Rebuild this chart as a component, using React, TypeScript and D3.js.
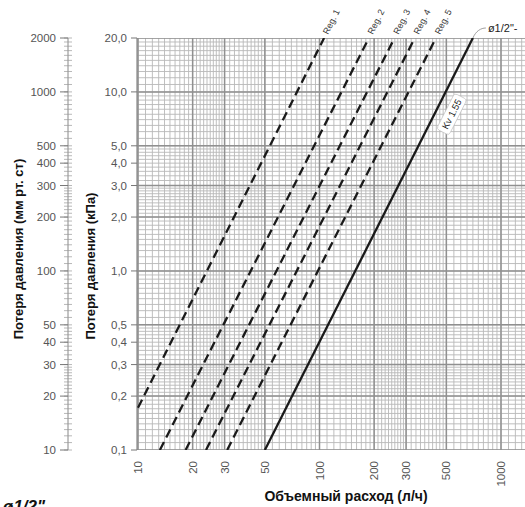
import React from "react";
import * as d3 from "d3";

// ---- data ----
const xTickValues = [10, 20, 30, 50, 100, 200, 300, 500, 1000];
const xTickLabels = ["10", "20", "30", "50", "100", "200", "300", "500", "1000"];
const kpaTickValues = [20, 10, 5, 4, 3, 2, 1, 0.5, 0.4, 0.3, 0.2, 0.1];
const kpaTickLabels = ["20,0", "10,0", "5,0", "4,0", "3,0", "2,0", "1,0", "0,5", "0,4", "0,3", "0,2", "0,1"];
const mmTickValues = [2000, 1000, 500, 400, 300, 200, 100, 50, 40, 30, 20, 10];
const mmTickLabels = ["2000", "1000", "500", "400", "300", "200", "100", "50", "40", "30", "20", "10"];
const majorYGrid = [0.1, 0.2, 0.3, 0.5, 1, 2, 3, 5, 10, 20];

// regulating positions: [flow start, dp start], [flow end, dp end]
const regNames = ["Reg. 1", "Reg. 2", "Reg. 3", "Reg. 4", "Reg. 5"];
const regStartFlow = [10, 13.2, 18.3, 23.7, 31];
const regStartDp = [0.172, 0.1, 0.1, 0.1, 0.1];
const regEndFlow = [106, 187, 259, 335, 438];
const regEndDp = [20, 20, 20, 20, 20];

const kvName = "Kv 1.55";
const kvFlow = [50, 700];
const kvDp = [0.1, 20];

const W = 525, H = 507;
const L = 137, R = 525, T = 38, B = 450;

function minorValues(lo: number, hi: number): number[] {
  const out: number[] = [];
  for (let b = lo; b < hi; b *= 10) {
    const segs: [number, number, number][] = [
      [1, 2, 0.1], [2, 3, 0.1], [3, 5, 0.2], [5, 10, 0.5],
    ];
    for (const [a, c, s] of segs) {
      for (let v = a; v < c - 1e-9; v += s) out.push(+(v * b).toFixed(6));
    }
  }
  out.push(hi);
  return out;
}

export default function App() {
  const x = d3.scaleLog().domain([10, 1000]).range([L + 1, L + 364]);
  const y = d3.scaleLog().domain([0.1, 20]).range([B, T]);
  const yMm = d3.scaleLog().domain([10, 2000]).range([B, T]);

  const xMinor = minorValues(10, 10000).filter((v) => x(v) <= R);
  const yMinor = minorValues(0.1, 100).filter((v) => v <= 20);
  const mmMinor = minorValues(10, 10000).filter((v) => v <= 2000);

  const line = d3
    .line<[number, number]>()
    .x((d) => x(d[0]))
    .y((d) => y(d[1]));

  const font = "'Liberation Sans', Arial, sans-serif";
  const ang = (-Math.atan2(2 * 179, 181.5) * 180) / Math.PI;

  // Kv label position
  const kvLabelDp = 7.6;
  const kvLabelFlow = kvFlow[1] * Math.sqrt(kvLabelDp / kvDp[1]);
  const kvLx = x(kvLabelFlow) + 17;
  const kvLy = y(kvLabelDp) + 1;

  return (
    <svg
      width={W}
      height={H}
      style={{ position: "fixed", left: 0, top: 0, background: "#fff" }}
      fontFamily={font}
    >
      <defs>
        <clipPath id="plot">
          <rect x={L} y={T} width={R - L} height={B - T} />
        </clipPath>
      </defs>
      <rect x={0} y={0} width={W} height={H} fill="#fff" />

      {/* grid */}
      <g clipPath="url(#plot)">
        {xMinor.map((v, i) => (
          <line key={"xm" + i} x1={x(v)} x2={x(v)} y1={T} y2={B} stroke="#b8b8b8" strokeWidth={0.9} />
        ))}
        {yMinor.map((v, i) => (
          <line key={"ym" + i} x1={L} x2={R} y1={y(v)} y2={y(v)} stroke="#b8b8b8" strokeWidth={0.9} />
        ))}
        {xTickValues.map((v, i) => (
          <line key={"xM" + i} x1={x(v)} x2={x(v)} y1={T} y2={B} stroke="#909090" strokeWidth={1.5} />
        ))}
        {majorYGrid.map((v, i) => (
          <line key={"yM" + i} x1={L} x2={R} y1={y(v)} y2={y(v)} stroke="#909090" strokeWidth={1.5} />
        ))}
      </g>
      <line x1={L} x2={L} y1={T} y2={B} stroke="#888" strokeWidth={1.2} />

      {/* curves */}
      <g clipPath="url(#plot)">
        {regNames.map((n, i) => (
          <path
            key={n}
            d={line([[regStartFlow[i], regStartDp[i]], [regEndFlow[i], regEndDp[i]]]) || ""}
            fill="none"
            stroke="#1a1a1a"
            strokeWidth={2.3}
            strokeDasharray="9,5"
          />
        ))}
        <path
          d={line([[kvFlow[0], kvDp[0]], [kvFlow[1], kvDp[1]]]) || ""}
          fill="none"
          stroke="#1a1a1a"
          strokeWidth={2.3}
        />
      </g>

      {/* Reg labels */}
      {regNames.map((n, i) => (
        <text
          key={"l" + n}
          transform={`translate(${x(regEndFlow[i]) + 4},${T - 3}) rotate(${ang})`}
          fontSize={9}
          fill="#333"
        >
          {n}
        </text>
      ))}

      {/* Kv label */}
      <g transform={`translate(${kvLx},${kvLy}) rotate(${ang})`}>
        <rect x={-20} y={-7} width={40} height={14} rx={3} fill="#fff" stroke="#bbb" strokeWidth={0.6} />
        <text textAnchor="middle" dy="0.35em" fontSize={9.5} fill="#222">
          {kvName}
        </text>
      </g>

      {/* size label with leader */}
      <path
        d={`M${x(kvFlow[1])},${T} C${x(kvFlow[1]) + 3},${T - 7} ${x(kvFlow[1]) + 8},${T - 10} ${x(kvFlow[1]) + 13},${T - 10}`}
        fill="none"
        stroke="#888"
        strokeWidth={0.8}
      />
      <text x={x(kvFlow[1]) + 15} y={T - 6} fontSize={11} fill="#222">
        ø1/2"-
      </text>

      {/* kPa axis */}
      {kpaTickValues.map((v, i) => (
        <g key={"k" + i}>
          <line x1={L - 6} x2={L} y1={y(v)} y2={y(v)} stroke="#777" strokeWidth={1} />
          <text x={L - 10} y={y(v)} dy="0.35em" textAnchor="end" fontSize={11.5} fill="#555">
            {kpaTickLabels[i]}
          </text>
        </g>
      ))}

      {/* mm axis */}
      <line x1={68} x2={68} y1={T} y2={B} stroke="#888" strokeWidth={1} />
      {mmMinor.map((v, i) => (
        <line key={"mm" + i} x1={64} x2={72} y1={yMm(v)} y2={yMm(v)} stroke="#999" strokeWidth={0.7} />
      ))}
      {mmTickValues.map((v, i) => (
        <g key={"mt" + i}>
          <line x1={60} x2={68} y1={yMm(v)} y2={yMm(v)} stroke="#777" strokeWidth={1} />
          <text x={56} y={yMm(v)} dy="0.35em" textAnchor="end" fontSize={11.5} fill="#555">
            {mmTickLabels[i]}
          </text>
        </g>
      ))}

      {/* x axis labels */}
      {xTickValues.map((v, i) => (
        <text
          key={"xt" + i}
          transform={`translate(${x(v)},${B + 11}) rotate(-90)`}
          dy="0.35em"
          textAnchor="end"
          fontSize={11.5}
          fill="#555"
        >
          {xTickLabels[i]}
        </text>
      ))}

      {/* titles */}
      <text
        transform={`translate(23,249) rotate(-90)`}
        textAnchor="middle"
        fontSize={13}
        fontWeight="bold"
        fill="#111"
      >
        Потеря давления (мм рт. ст)
      </text>
      <text
        transform={`translate(95,266) rotate(-90)`}
        textAnchor="middle"
        fontSize={13}
        fontWeight="bold"
        fill="#111"
      >
        Потеря давления (кПа)
      </text>
      <text x={346} y={501} textAnchor="middle" fontSize={14} fontWeight="bold" fill="#111">
        Объемный расход (л/ч)
      </text>
      <text x={3} y={512} fontSize={17} fontWeight="bold" fontStyle="italic" fill="#111">
        ø1/2"
      </text>
    </svg>
  );
}
